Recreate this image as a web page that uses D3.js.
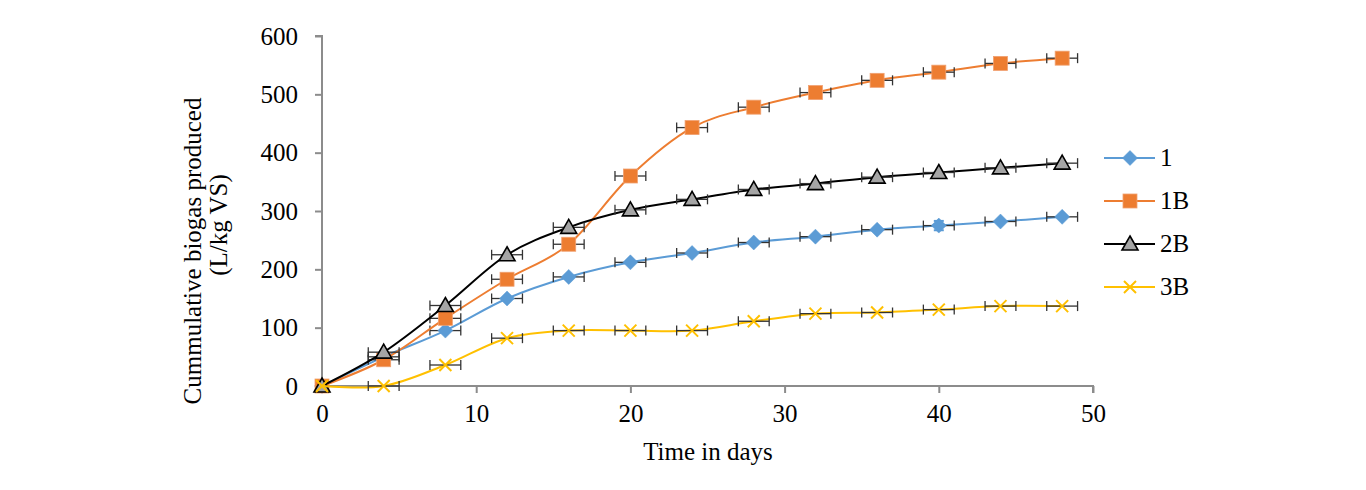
<!DOCTYPE html>
<html><head><meta charset="utf-8">
<script src="https://cdn.jsdelivr.net/npm/d3@7"></script>
<style>body{margin:0;background:#fff}svg{display:block}</style>
</head><body>
<svg id="c" width="1366" height="490"></svg>
<script>
const days = [0,4,8,12,16,20,24,28,32,36,40,44,48];
const s1  = [0,50,95,150,187,212,228,246,256,268,275,282,290];
const s1B = [0,45,116,183,243,360,443,478,503,524,538,553,562];
const s2B = [0,58,138,225,272,302,320,337,347,358,366,374,382];
const s3B = [0,0,36,82,95,95,95,111,124,126,131,137,137];
const xErr = [0,1,1,1,1,1,1,1,1,1,1,1,1];
const yErr1 = [0,0,0,0,0,0,0,0,0,0,8,0,0];
const xTicks = [0,10,20,30,40,50];
const yTicks = [0,100,200,300,400,500,600];
const seriesNames = ["1","1B","2B","3B"];

const series = [
  {name:seriesNames[0], vals:s1, color:"#5B9BD5", marker:"diamond", yErr:yErr1},
  {name:seriesNames[1], vals:s1B, color:"#ED7D31", marker:"square"},
  {name:seriesNames[2], vals:s2B, color:"#000000", marker:"triangle"},
  {name:seriesNames[3], vals:s3B, color:"#FFC000", marker:"x"}
];

const svg = d3.select("#c");
const x = d3.scaleLinear().domain([0,50]).range([322,1093]);
const y = d3.scaleLinear().domain([0,600]).range([386,36]);
const font = "'Liberation Serif','Times New Roman',serif";
const fs = "25px";

function drawMarker(g, type, cx, cy, color){
  if(type==="diamond"){
    g.append("path").attr("d",`M${cx},${cy-7.5}L${cx+7.5},${cy}L${cx},${cy+7.5}L${cx-7.5},${cy}Z`).attr("fill",color).attr("stroke",color).attr("stroke-width",0.5);
  } else if(type==="square"){
    g.append("rect").attr("x",cx-7).attr("y",cy-7).attr("width",14).attr("height",14).attr("fill",color).attr("stroke","#F0A070").attr("stroke-width",0.8);
  } else if(type==="triangle"){
    g.append("path").attr("d",`M${cx},${cy-8}L${cx+8},${cy+6}L${cx-8},${cy+6}Z`).attr("fill","#A5A5A5").attr("stroke","#000").attr("stroke-width",1.6);
  } else {
    g.append("path").attr("d",`M${cx-6},${cy-6}L${cx+6},${cy+6}M${cx+6},${cy-6}L${cx-6},${cy+6}`).attr("stroke",color).attr("stroke-width",2);
  }
}

// Axes
const yAxis = d3.axisLeft(y).tickValues(yTicks).tickSize(7).tickPadding(17);
const xAxis = d3.axisBottom(x).tickValues(xTicks).tickSize(7);
const gy = svg.append("g").attr("transform","translate(322,0)").call(yAxis);
const gx = svg.append("g").attr("transform","translate(0,386)").call(xAxis);
[gy,gx].forEach(g=>{
  g.select(".domain").attr("stroke","#8C8C8C").attr("stroke-width",2);
  g.selectAll(".tick line").attr("stroke","#8C8C8C").attr("stroke-width",2);
  g.selectAll(".tick text").attr("fill","#000").style("font-family",font).style("font-size",fs);
});
gx.selectAll(".tick text").attr("y",36).attr("dy",0);
gx.select(".domain").attr("d","M322,7V0H1093V7");
gy.select(".domain").attr("d","M-7,36H0V386H-7");

// Series
const line = d3.line().x((d,i)=>x(days[i])).y(d=>y(d)).curve(d3.curveCardinal.tension(0));
series.forEach(s=>{
  const g = svg.append("g");
  g.append("path").datum(s.vals).attr("d",line).attr("fill","none").attr("stroke",s.color).attr("stroke-width",2);
  const eg = g.append("g").attr("stroke","#333").attr("stroke-width",1.3);
  s.vals.forEach((v,i)=>{
    if(xErr[i]>0){
      const x0=x(days[i]-xErr[i]), x1=x(days[i]+xErr[i]), cy=y(v);
      eg.append("line").attr("x1",x0).attr("x2",x1).attr("y1",cy).attr("y2",cy);
      eg.append("line").attr("x1",x0).attr("x2",x0).attr("y1",cy-5).attr("y2",cy+5);
      eg.append("line").attr("x1",x1).attr("x2",x1).attr("y1",cy-5).attr("y2",cy+5);
    }
    if(s.yErr && s.yErr[i]>0){
      const cx=x(days[i]), y0=y(v-s.yErr[i]), y1=y(v+s.yErr[i]);
      eg.append("line").attr("x1",cx).attr("x2",cx).attr("y1",y0).attr("y2",y1).attr("stroke",s.color).attr("stroke-width",2);
      eg.append("line").attr("x1",cx-5).attr("x2",cx+5).attr("y1",y0).attr("y2",y0).attr("stroke",s.color).attr("stroke-width",2);
      eg.append("line").attr("x1",cx-5).attr("x2",cx+5).attr("y1",y1).attr("y2",y1).attr("stroke",s.color).attr("stroke-width",2);
    }
  });
  s.vals.forEach((v,i)=>drawMarker(g,s.marker,x(days[i]),y(v),s.color));
});

// Axis titles
svg.append("text").attr("x",708).attr("y",460).attr("text-anchor","middle")
  .style("font-family",font).style("font-size",fs).text("Time in days");
svg.append("text").attr("transform","translate(201,251) rotate(-90)").attr("text-anchor","middle")
  .style("font-family",font).style("font-size",fs).text("Cummulative biogas produced");
svg.append("text").attr("transform","translate(227,225) rotate(-90)").attr("text-anchor","middle")
  .style("font-family",font).style("font-size",fs).text("(L/kg VS)");

// Legend
const lg = svg.append("g");
series.forEach((s,i)=>{
  const ly = 158 + i*43;
  lg.append("line").attr("x1",1104).attr("x2",1155).attr("y1",ly).attr("y2",ly).attr("stroke",s.color).attr("stroke-width",2);
  drawMarker(lg,s.marker,1130,ly,s.color);
  lg.append("text").attr("x",1160).attr("y",ly+8).style("font-family",font).style("font-size",fs).text(s.name);
});
</script>
</body></html>
